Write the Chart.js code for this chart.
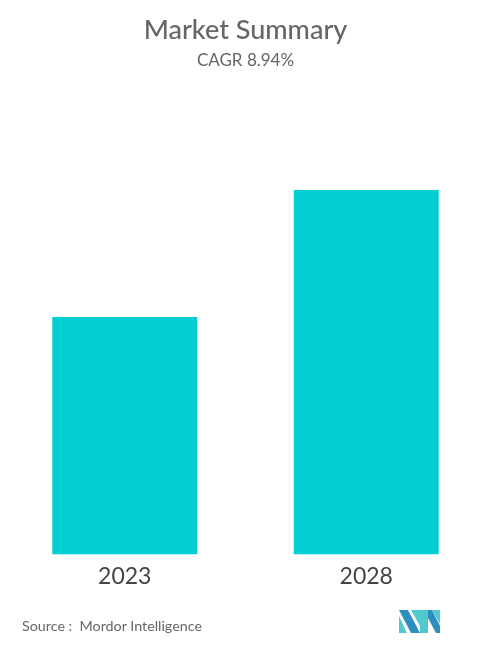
<!DOCTYPE html>
<html>
<head>
<meta charset="utf-8">
<script src="https://cdn.jsdelivr.net/npm/chart.js@4"></script>
<style>
  html, body { margin: 0; padding: 0; background: #fff; }
  #wrap { position: relative; width: 500px; height: 649px; }
  #source { position: absolute; left: 22px; top: 617px; font: 14.3px Lato, sans-serif; color: #666; }
  #logo { position: absolute; left: 399px; top: 610px; }
</style>
</head>
<body>
<div id="wrap">
  <canvas id="chart" width="500" height="649"></canvas>
  <div id="source">Source :&nbsp; Mordor Intelligence</div>
  <svg id="logo" width="41" height="23" viewBox="0 0 41 23">
    <polygon points="0,0 9,0 21,23 12,23" fill="#2c8fc0"/>
    <polygon points="0,6 8,23 0,23" fill="#4fc9cf"/>
    <polygon points="12,0 21,0 21,16" fill="#4fc9cf"/>
    <polygon points="21,0 29,0 29,23 21,23" fill="#4fc9cf"/>
    <polygon points="29,0 33,0 41,16 41,23 37,23 29,8" fill="#2c8fc0"/>
    <polygon points="33,0 41,0 41,14" fill="#4fc9cf"/>
  </svg>
</div>
<script>
// chart values
const years = ['2023', '2028'];
const marketSize = [1.0, 1.536];

const ctx = document.getElementById('chart').getContext('2d');

new Chart(ctx, {
  type: 'bar',
  data: {
    labels: years,
    datasets: [{
      data: marketSize,
      backgroundColor: '#00ced1',
      borderWidth: 0,
      categoryPercentage: 1.0,
      barPercentage: 0.6
    }]
  },
  options: {
    responsive: false,
    animation: false,
    layout: { padding: { left: 4, right: 13, top: 0, bottom: 59 } },
    plugins: {
      legend: { display: false },
      tooltip: { enabled: false },
      title: {
        display: true,
        text: 'Market Summary',
        color: '#666',
        font: { family: 'Lato', size: 27, weight: '500' },
        padding: { top: 14, bottom: 4 }
      },
      subtitle: {
        display: true,
        text: 'CAGR 8.94%',
        color: '#666',
        font: { family: 'Lato', size: 17 },
        padding: { bottom: 9 }
      }
    },
    scales: {
      x: {
        grid: { display: false },
        border: { display: false },
        ticks: { color: '#444', font: { family: 'Lato', size: 23 }, padding: 0 }
      },
      y: {
        display: false,
        min: 0,
        max: 2.0
      }
    }
  }
});
</script>
</body>
</html>
